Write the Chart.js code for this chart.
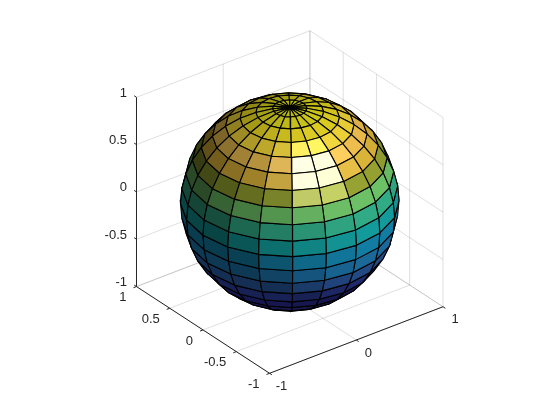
<!DOCTYPE html>
<html>
<head>
<meta charset="utf-8">
<title>Esfera</title>
<script src="https://cdn.jsdelivr.net/npm/chart.js@4"></script>
<style>
    html, body { margin: 0; padding: 0; background: #fff; }
    canvas { display: block; }
</style>
</head>
<body>
<canvas id="esfera" width="560" height="420"></canvas>
<script>
// Malla de la esfera (grados)
const latitudes = [-90, -81, -72, -63, -54, -45, -36, -27, -18, -9, 0, 9, 18, 27, 36, 45, 54, 63, 72, 81, 90];
const longitudes = [-180, -162, -144, -126, -108, -90, -72, -54, -36, -18, 0, 18, 36, 54, 72, 90, 108, 126, 144, 162, 180];

// Color de cada banda, de abajo hacia arriba
const coloresBanda = ['#4545e6', '#4545e6', '#4545e6', '#4545e6', '#4545e6', '#4747f3', '#4764ff', '#408dff', '#2baeff', '#1bb7ee',
    '#19cdcd', '#3cd1a4', '#7dde76', '#a4b235', '#edc23e', '#ffcd54', '#ffe13b', '#f4e224', '#ebe51e', '#ebeb19'];

// Ticks de los ejes
const ticksX = [-1, 0, 1];
const ticksY = [-1, -0.5, 0, 0.5, 1];
const ticksZ = [-1, -0.5, 0, 0.5, 1];

// Vista de la cámara y luces (relativas a la cámara)
const azimut = -37.5 * Math.PI / 180;
const elevacion = 30 * Math.PI / 180;
const luzBrillo = [0.433, 0.5, 0.75];
const luzDifusa = [0.55, 0.47, 0.69];
const ambiente = 0.33, difusa = 0.6, especular = 0.95, exponente = 45;

const derecha = [Math.cos(azimut), Math.sin(azimut), 0];
const arriba = [-Math.sin(elevacion) * Math.sin(azimut), Math.sin(elevacion) * Math.cos(azimut), Math.cos(elevacion)];
const haciaCamara = [Math.cos(elevacion) * Math.sin(azimut), -Math.cos(elevacion) * Math.cos(azimut), Math.sin(elevacion)];

const dot = (a, b) => a[0] * b[0] + a[1] * b[1] + a[2] * b[2];
const proyectar = p => ({ x: dot(p, derecha), y: dot(p, arriba) });

const unitario = v => {
    const n = Math.hypot(v[0], v[1], v[2]);
    return [v[0] / n, v[1] / n, v[2] / n];
};
const vertice = (lat, lon) => {
    const a = lat * Math.PI / 180, b = lon * Math.PI / 180;
    return [Math.cos(a) * Math.cos(b), Math.cos(a) * Math.sin(b), Math.sin(a)];
};

// Ilumina el color de la cara con la normal en coordenadas de cámara
function iluminar(hex, normal) {
    const n = [dot(normal, derecha), dot(normal, arriba), dot(normal, haciaCamara)];
    const l = unitario(luzBrillo);
    const h = unitario([l[0], l[1], l[2] + 1]);
    const d = Math.max(dot(n, unitario(luzDifusa)), 0);
    const s = Math.pow(Math.max(dot(n, h), 0), exponente);
    const canal = i => {
        const c = parseInt(hex.substr(1 + i * 2, 2), 16);
        return Math.min(255, Math.round(c * (ambiente + difusa * d) + 255 * especular * s));
    };
    return `rgb(${canal(0)}, ${canal(1)}, ${canal(2)})`;
}

// Caras de la esfera, de la más cercana a la más lejana
const caras = [];
for (let i = 0; i < latitudes.length - 1; i++) {
    for (let j = 0; j < longitudes.length - 1; j++) {
        const esquinas = [
            vertice(latitudes[i], longitudes[j]),
            vertice(latitudes[i], longitudes[j + 1]),
            vertice(latitudes[i + 1], longitudes[j + 1]),
            vertice(latitudes[i + 1], longitudes[j])
        ];
        const centro = unitario([0, 1, 2].map(k => esquinas.reduce((t, e) => t + e[k], 0)));
        const profundidad = dot(centro, haciaCamara);
        if (profundidad < -0.15) continue;
        caras.push({ esquinas, centro, profundidad, color: iluminar(coloresBanda[i], centro) });
    }
}
caras.sort((a, b) => b.profundidad - a.profundidad);

const datasetsCaras = caras.map(c => ({
    data: [...c.esquinas, c.esquinas[0]].map(proyectar),
    showLine: true,
    fill: 'shape',
    backgroundColor: c.color,
    borderColor: '#000',
    borderWidth: 1.1,
    pointRadius: 0,
    clip: false
}));

// Líneas de la caja: rejilla, ejes y marcas
const segmento = (a, b, color) => ({
    data: [proyectar(a), proyectar(b)],
    showLine: true,
    fill: false,
    borderColor: color,
    borderWidth: 1,
    pointRadius: 0,
    clip: false
});
const colorRejilla = 'rgba(38, 38, 38, 0.15)';
const colorEje = '#262626';
const largoMarca = 0.035;
const lineas = [];

ticksX.forEach(x => {
    lineas.push(segmento([x, -1, -1], [x, 1, -1], colorRejilla));
    lineas.push(segmento([x, 1, -1], [x, 1, 1], colorRejilla));
    lineas.push(segmento([x, -1, -1], [x, -1 - largoMarca, -1], colorEje));
});
ticksY.forEach(y => {
    lineas.push(segmento([-1, y, -1], [1, y, -1], colorRejilla));
    lineas.push(segmento([1, y, -1], [1, y, 1], colorRejilla));
    lineas.push(segmento([-1, y, -1], [-1 - largoMarca, y, -1], colorEje));
});
ticksZ.forEach(z => {
    lineas.push(segmento([-1, 1, z], [1, 1, z], colorRejilla));
    lineas.push(segmento([1, 1, z], [1, -1, z], colorRejilla));
    lineas.push(segmento([-1, 1, z], [-1, 1 + largoMarca, z], colorEje));
});
lineas.push(segmento([-1, -1, -1], [1, -1, -1], colorEje));
lineas.push(segmento([-1, -1, -1], [-1, 1, -1], colorEje));
lineas.push(segmento([-1, 1, -1], [-1, 1, 1], colorEje));

// Etiquetas de los ticks
const etiquetasEjes = {
    id: 'etiquetasEjes',
    afterDraw(chart) {
        const { ctx, scales } = chart;
        const poner = (p, texto, dx, dy, align) => {
            const q = proyectar(p);
            ctx.textAlign = align;
            ctx.fillText(texto, scales.x.getPixelForValue(q.x) + dx, scales.y.getPixelForValue(q.y) + dy);
        };
        ctx.save();
        ctx.font = '13px "Liberation Sans"';
        ctx.fillStyle = '#262626';
        ctx.textBaseline = 'middle';
        ticksX.forEach(x => poner([x, -1, -1], String(x), 12, 13, 'center'));
        ticksY.forEach(y => poner([-1, y, -1], String(y), -10, 11, 'right'));
        ticksZ.forEach(z => poner([-1, 1, z], String(z), -9.5, -4, 'right'));
        ctx.restore();
    }
};

// Escala en píxeles por unidad y centro de la caja
const escala = 109.3, centroX = 289.75, centroY = 202;

new Chart(document.getElementById('esfera'), {
    type: 'scatter',
    data: { datasets: [...datasetsCaras, ...lineas] },
    options: {
        responsive: false,
        animation: false,
        layout: { padding: 0 },
        plugins: { legend: { display: false }, tooltip: { enabled: false } },
        scales: {
            x: { type: 'linear', display: false, min: -centroX / escala, max: (560 - centroX) / escala },
            y: { type: 'linear', display: false, min: (centroY - 420) / escala, max: centroY / escala }
        }
    },
    plugins: [etiquetasEjes]
});
</script>
</body>
</html>
